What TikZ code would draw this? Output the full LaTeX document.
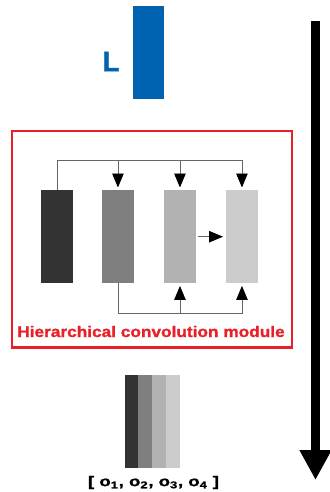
\documentclass[tikz,border=0pt]{standalone}
\usepackage{fontspec}
\setmainfont{Liberation Sans}
\newfontfamily\heavyfont[FakeBold=1.2]{Liberation Sans}
\usetikzlibrary{arrows.meta}
\definecolor{lblue}{HTML}{0063B1}
\definecolor{mred}{HTML}{E8202A}
\definecolor{gA}{HTML}{333333}
\definecolor{gB}{HTML}{7F7F7F}
\definecolor{gC}{HTML}{B2B2B2}
\definecolor{gD}{HTML}{CCCCCC}
\begin{document}
\begin{tikzpicture}[x=1pt,y=-1pt,
  bar/.style={draw=none, inner sep=0pt, minimum width=31.5pt, minimum height=93pt, anchor=north west},
  strip/.style={draw=none, inner sep=0pt, minimum width=13.95pt, minimum height=93pt, anchor=north west},
  wire/.style={draw=black!60, line width=0.9pt},
  arr/.style={wire, shorten >=2.5pt, -{Triangle[width=11.5pt,length=14pt,color=black,fill=black]}}]
\useasboundingbox (0,0) rectangle (329,492);

% input block
\node[fill=lblue, inner sep=0pt, minimum width=31pt, minimum height=93pt, anchor=north west] (inp) at (133,6) {};
\node[text=lblue, inner sep=0pt, font=\heavyfont\bfseries\fontsize{28}{28}\selectfont] (inplabel) at (111,61.5) {L};

% module frame
\node[draw=mred, line width=2.7pt, inner sep=0pt, minimum width=280pt, minimum height=216.5pt, anchor=north west] (module) at (10.5,129.5) {};

% the four groups
\node[bar, fill=gA] (b1) at (41,190) {};
\node[bar, fill=gB] (b2) at (102,190) {};
\node[bar, fill=gC] (b3) at (164,190) {};
\node[bar, fill=gD] (b4) at (226,190) {};

\coordinate (ytop) at (0,160);
\coordinate (ybot) at (0,313.5);

% upper bus
\draw[wire] (b1.north) -- (b1.north |- ytop) -- (b4.north |- ytop);
\draw[arr] (b2.north |- ytop) -- (b2.north);
\draw[arr] (b3.north |- ytop) -- (b3.north);
\draw[arr] (b4.north |- ytop) -- (b4.north);

% lower bus
\draw[wire] (b2.south) -- (b2.south |- ybot) -- (b4.south |- ybot);
\draw[arr] (b3.south |- ybot) -- (b3.south);
\draw[arr] (b4.south |- ybot) -- (b4.south);

% side link
\draw[arr, shorten <=2.5pt, shorten >=3pt] (b3.east) -- (b4.west);

\node[text=mred, inner sep=0pt, font=\heavyfont\bfseries\fontsize{15.4}{15.4}\selectfont] (modlabel) at (151,331.5)
  {\scalebox{1.12}[1]{Hierarchical convolution module}};

% concatenated output
\node[strip, fill=gA] (o1) at (124.3,375) {};
\node[strip, fill=gB] (o2) at (138.2,375) {};
\node[strip, fill=gC] (o3) at (152.1,375) {};
\node[strip, fill=gD] (o4) at (166.0,375) {};
\node[inner sep=0pt, font=\heavyfont\bfseries\fontsize{14}{14}\selectfont] (outlabel) at (153.5,482.5)
  {\scalebox{1.33}[1]{[ o\textsubscript{1}, o\textsubscript{2}, o\textsubscript{3}, o\textsubscript{4} ]}};

% flow direction
\coordinate (ftop) at (315.5,21);
\coordinate (fbot) at (315.5,480);
\draw[line width=9pt, -{Triangle[width=30pt,length=30pt]}] (ftop) -- (fbot);
\end{tikzpicture}
\end{document}
